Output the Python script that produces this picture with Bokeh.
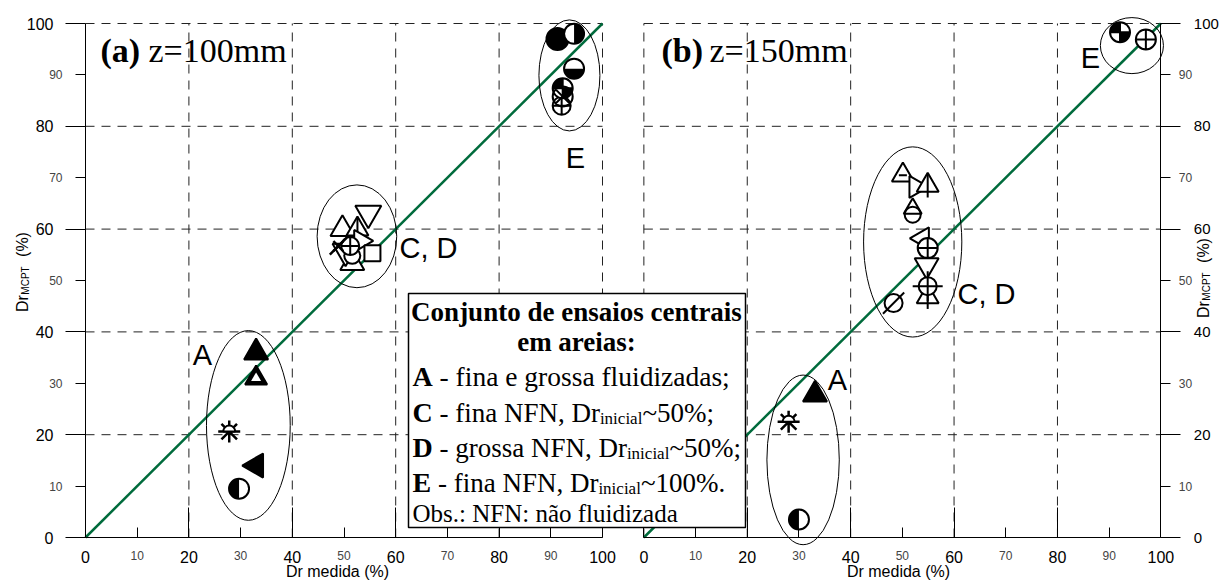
import math
from bokeh.plotting import figure
from bokeh.models import (Range1d, LinearAxis, FixedTicker, ColumnDataSource,
                          LabelSet, Label, BoxAnnotation)
from bokeh.core.properties import value
from bokeh.embed import file_html
from bokeh.resources import INLINE

# ---------------- data ----------------
diag_x = [0, 100]
diag_y = [0, 100]
major_ticks = [0, 20, 40, 60, 80, 100]
minor_ticks = [10, 30, 50, 70, 90]
minor_labels = ["10", "30", "50", "70", "90"]
grid_a = [20, 40, 60, 80, 100]     # vertical dashed grid values, panel (a)
grid_b = [0, 20, 40, 60, 80]       # vertical dashed grid values, panel (b)
grid_h = [20, 40, 60, 80, 100]     # horizontal dashed grid values

# panel (a) z=100mm  -- Dr medida vs Dr MCPT
a_tri_fill_x, a_tri_fill_y = [33.0], [36.0]
a_tri_half_x, a_tri_half_y = [33.0], [31.0]
a_sun_x, a_sun_y = [27.8], [20.6]
a_tri_left_fill_x, a_tri_left_fill_y = [33.0], [14.0]
a_half_left_x, a_half_left_y = [29.7], [9.5]
a_tri_open_x, a_tri_open_y = [49.7, 51.6], [60.0, 53.4]
a_tri_vline_x, a_tri_vline_y = [52.6], [60.0]
a_tri_right_x, a_tri_right_y = [53.2], [57.7]
a_inv_tri_x, a_inv_tri_y = [54.7, 50.3], [63.1, 55.7]
a_circle_x, a_circle_y = [51.6], [54.8]
a_circ_cross_x, a_circ_cross_y = [51.2, 92.1], [56.7, 84.0]
a_square_x, a_square_y = [55.5], [55.3]
a_xmark_x, a_xmark_y = [48.9], [56.7]
a_circ_fill_x, a_circ_fill_y = [91.3], [97.0]
a_half_right_x, a_half_right_y = [94.5], [98.0]
a_half_bottom_x, a_half_bottom_y = [94.5], [91.2]
a_quarter_x, a_quarter_y = [92.3], [87.4]
a_circ_x_x, a_circ_x_y = [92.3], [85.8]

# panel (b) z=150mm
b_tri_fill_x, b_tri_fill_y = [33.1], [27.8]
b_sun_x, b_sun_y = [28.0], [22.5]
b_half_left_x, b_half_left_y = [30.0], [3.5]
b_tri_dash_x, b_tri_dash_y = [50.1], [70.5]
b_tri_right_x, b_tri_right_y = [52.6], [68.2]
b_tri_vline_x, b_tri_vline_y = [54.9, 54.9], [68.5, 46.8]
b_tri_open_x, b_tri_open_y = [52.0], [64.0]
b_circle_x, b_circle_y = [52.0], [62.8]
b_tri_left_x, b_tri_left_y = [53.9], [58.2]
b_circ_cross_x, b_circ_cross_y = [54.9, 97.1], [56.3, 96.9]
b_inv_tri_x, b_inv_tri_y = [54.7], [53.0]
b_crosshair_x, b_crosshair_y = [54.9], [48.9]
b_slash_x, b_slash_y = [48.3], [45.6]
b_quarter_x, b_quarter_y = [92.1], [98.3]

# group ellipses: x, y, width, height
ell_a_x, ell_a_y = [31.5, 52.5, 93.6], [21.8, 58.6, 89.9]
ell_a_w, ell_a_h = [16.2, 15.4, 11.8], [36.9, 20.0, 21.6]
ell_b_x, ell_b_y = [30.8, 52.0, 94.4], [15.1, 57.5, 95.7]
ell_b_w, ell_b_h = [14.0, 19.0, 12.2], [33.0, 37.0, 10.9]

# ---------------- layout ----------------
W, H = 1219, 580
SX, SY = 5.17, 5.14          # px per data unit
FX0, FY0 = 85, 537           # page px of panel (a) origin
OFFSET = 108                 # panel (b) origin, in panel (a) units

x0 = -FX0 / SX
x1 = (W - FX0) / SX
y0 = -(H - FY0) / SY
y1 = FY0 / SY

p = figure(width=W, height=H, x_range=Range1d(x0, x1), y_range=Range1d(y0, y1),
           output_backend="svg", toolbar_location=None,
           x_axis_location=None, y_axis_location=None, min_border=0,
           min_border_left=0, min_border_right=0, min_border_top=0,
           min_border_bottom=0)
p.extra_x_ranges = {"right": Range1d(x0 - OFFSET, x1 - OFFSET)}
p.grid.visible = False
p.outline_line_color = None
p.background_fill_color = "white"
p.border_fill_color = "white"

SANS = "Liberation Sans"
SERIF = "Liberation Serif"


def style_axis(ax, tin, tout, mtin, mtout, standoff, fsize="16px"):
    ax.ticker = FixedTicker(ticks=major_ticks, minor_ticks=minor_ticks)
    ax.bounds = (0, 100)
    ax.major_tick_in = tin
    ax.major_tick_out = tout
    ax.minor_tick_in = mtin
    ax.minor_tick_out = mtout
    ax.major_label_standoff = standoff
    ax.major_label_text_font = SANS
    ax.major_label_text_font_size = fsize
    ax.major_label_text_color = "black"
    ax.axis_line_color = "black"
    ax.major_tick_line_color = "black"
    ax.minor_tick_line_color = "black"


for rn in ("default", "right"):
    bx = LinearAxis(x_range_name=rn, fixed_location=0)
    style_axis(bx, 30, 0, 10, 0, 13)
    p.add_layout(bx, "below")

ly = LinearAxis(fixed_location=0)
style_axis(ly, 0, 20, 0, 10, 12)
p.add_layout(ly, "left")
ry = LinearAxis(x_range_name="right", fixed_location=100)
style_axis(ry, 0, 20, 0, 10, 13, "15px")
p.add_layout(ry, "right")

# minor tick labels (smaller font)
for rn in ("default", "right"):
    p.add_layout(LabelSet(
        source=ColumnDataSource(dict(x=minor_ticks, y=[0] * 5, t=minor_labels)),
        x="x", y="y", text="t", y_offset=-18, text_align="center",
        x_range_name=rn, text_baseline="middle", text_font=value(SANS),
        text_font_size=value("12px")))
p.add_layout(LabelSet(
    source=ColumnDataSource(dict(x=[0] * 5, y=minor_ticks, t=minor_labels)),
    x="x", y="y", text="t", x_offset=-23, text_align="right",
    text_baseline="middle", text_font=value(SANS), text_font_size=value("12px")))
p.add_layout(LabelSet(
    source=ColumnDataSource(dict(x=[100] * 5, y=minor_ticks, t=minor_labels)),
    x="x", y="y", text="t", x_offset=18, text_align="left", x_range_name="right",
    text_baseline="middle", text_font=value(SANS), text_font_size=value("12px")))

DASH = "9 7"
for rn, gv in (("default", grid_a), ("right", grid_b)):
    p.segment(x0=gv, y0=[0] * len(gv), x1=gv, y1=[100] * len(gv),
              line_color="#222222", line_width=1, line_dash=DASH, x_range_name=rn)
    p.segment(x0=[0] * len(grid_h), y0=grid_h, x1=[100] * len(grid_h), y1=grid_h,
              line_color="#222222", line_width=1, line_dash=DASH, x_range_name=rn)

GREEN = "#006B3C"
for rn in ("default", "right"):
    p.line(diag_x, diag_y, line_color=GREEN, line_width=2.5, x_range_name=rn)

p.ellipse(ell_a_x, ell_a_y, width=ell_a_w, height=ell_a_h, fill_color=None,
          line_color="black", line_width=1)
p.ellipse(ell_b_x, ell_b_y, width=ell_b_w, height=ell_b_h, fill_color=None,
          line_color="black", line_width=1, x_range_name="right")

LW = 2
PI = math.pi


def sc(xs, ys, rn, marker, size, fill="white", line="black", lw=LW, angle=0.0):
    p.scatter(xs, ys, marker=marker, size=size, fill_color=fill, line_color=line,
              line_width=lw, angle=angle, x_range_name=rn)


def circ_parts(xs, ys, rn, wedges, size=20, cross=False):
    p.scatter(xs, ys, marker="circle", size=size, fill_color="white",
              line_color=None, x_range_name=rn)
    for a0, a1 in wedges:
        p.wedge(xs, ys, radius=size / 2, radius_units="screen", start_angle=a0,
                end_angle=a1, fill_color="black", line_color=None, x_range_name=rn)
    p.scatter(xs, ys, marker="circle_cross" if cross else "circle", size=size,
              fill_color=None, line_color="black", line_width=LW, x_range_name=rn)


def sun(xs, ys, rn):
    p.scatter(xs, ys, marker="asterisk", size=22, line_color="black",
              line_width=2.5, x_range_name=rn)
    p.wedge(xs, ys, radius=6, radius_units="screen", start_angle=0,
            end_angle=PI, fill_color="white", line_color="black",
            line_width=2, x_range_name=rn)


# ---- panel (a)
rn = "default"
sc(a_tri_fill_x, a_tri_fill_y, rn, "triangle", 24, fill="black")
sc(a_tri_half_x, a_tri_half_y, rn, "triangle", 22, fill="black")
sc(a_tri_half_x, a_tri_half_y, rn, "triangle", 10, fill="white", line=None)
sun(a_sun_x, a_sun_y, rn)
sc(a_tri_left_fill_x, a_tri_left_fill_y, rn, "triangle", 24, fill="black", angle=PI / 2)
circ_parts(a_half_left_x, a_half_left_y, rn, [(PI / 2, 3 * PI / 2)])
sc(a_tri_open_x, a_tri_open_y, rn, "triangle", 24)
sc(a_tri_vline_x, a_tri_vline_y, rn, "triangle", 22)
sc(a_tri_vline_x, a_tri_vline_y, rn, "dash", 22, angle=PI / 2)
sc(a_tri_right_x, a_tri_right_y, rn, "triangle", 22, angle=-PI / 2)
sc(a_inv_tri_x, a_inv_tri_y, rn, "inverted_triangle", 26)
sc(a_square_x, a_square_y, rn, "square", 16)
sc(a_circle_x, a_circle_y, rn, "circle", 16)
sc(a_circ_cross_x, a_circ_cross_y, rn, "circle_cross", 18)
sc(a_xmark_x, a_xmark_y, rn, "x", 14, lw=2.5)
sc(a_xmark_x, a_xmark_y, rn, "dash", 24, angle=PI / 4, lw=2.5)
sc(a_circ_fill_x, a_circ_fill_y, rn, "circle", 22, fill="black")
circ_parts(a_half_right_x, a_half_right_y, rn, [(-PI / 2, PI / 2)])
circ_parts(a_half_bottom_x, a_half_bottom_y, rn, [(PI, 2 * PI)])
circ_parts(a_quarter_x, a_quarter_y, rn, [(PI / 2, PI), (3 * PI / 2, 2 * PI)], cross=True)
sc(a_circ_x_x, a_circ_x_y, rn, "circle_x", 20, fill=None)

# ---- panel (b)
rn = "right"
sc(b_tri_fill_x, b_tri_fill_y, rn, "triangle", 24, fill="black")
sun(b_sun_x, b_sun_y, rn)
circ_parts(b_half_left_x, b_half_left_y, rn, [(PI / 2, 3 * PI / 2)])
sc(b_tri_dash_x, b_tri_dash_y, rn, "triangle", 22)
sc(b_tri_dash_x, b_tri_dash_y, rn, "dash", 8)
sc(b_tri_right_x, b_tri_right_y, rn, "triangle", 22, angle=-PI / 2)
sc(b_tri_vline_x, b_tri_vline_y, rn, "triangle", 22)
sc(b_tri_vline_x, b_tri_vline_y, rn, "dash", 24, angle=PI / 2)
sc(b_tri_open_x, b_tri_open_y, rn, "triangle", 18)
sc(b_circle_x, b_circle_y, rn, "circle", 16, fill=None)
sc(b_tri_left_x, b_tri_left_y, rn, "triangle", 22, angle=PI / 2)
sc(b_circ_cross_x, b_circ_cross_y, rn, "circle_cross", 20)
sc(b_inv_tri_x, b_inv_tri_y, rn, "inverted_triangle", 24)
sc(b_crosshair_x, b_crosshair_y, rn, "circle", 18)
sc(b_crosshair_x, b_crosshair_y, rn, "cross", 30, fill=None)
sc(b_slash_x, b_slash_y, rn, "circle", 18)
sc(b_slash_x, b_slash_y, rn, "dash", 30, angle=PI / 4)
circ_parts(b_quarter_x, b_quarter_y, rn, [(PI / 2, PI), (3 * PI / 2, 2 * PI)], cross=True)


# ---------------- texts ----------------
def px_x(px):
    return (px - FX0) / SX


def px_y(py):
    return (FY0 - py) / SY


def lab(text, px, py, size, font=SERIF, style="normal", align="left",
        baseline="middle", angle=0.0):
    p.add_layout(Label(x=px_x(px), y=px_y(py), text=text, text_font=font,
                       text_font_size="%.1fpx" % size, text_font_style=style,
                       text_align=align, text_baseline=baseline, angle=angle,
                       text_color="black"))


NB = "\u00a0"

# group letters
lab("A", 202, 354, 29, font=SANS, align="center")
lab("C, D", 428, 247, 29, font=SANS, align="center")
lab("E", 575, 157, 29, font=SANS, align="center")
lab("A", 837, 379, 29, font=SANS, align="center")
lab("C, D", 986, 293, 29, font=SANS, align="center")
lab("E", 1090, 57, 29, font=SANS, align="center")

# panel titles
lab("(a)", 100, 50, 34, style="bold")
lab("z=100mm", 148, 50, 34)
lab("(b)", 661, 50, 34, style="bold")
lab("z=150mm", 709, 50, 34)

# axis titles
for cx in (337, 898):
    lab("Dr medida (%)", cx, 571, 16, font=SANS, align="center")
for cx, dy in ((22, 0), (1203, 6)):
    lab("Dr", cx, 303 + dy, 16, font=SANS, align="center", angle=PI / 2)
    lab("MCPT", cx + 3, 280 + dy, 10, font=SANS, align="center", angle=PI / 2)
    lab("(%)", cx, 244 + dy, 16, font=SANS, align="center", angle=PI / 2)

# legend box
p.add_layout(BoxAnnotation(left=px_x(408), right=px_x(745), top=px_y(293),
                           bottom=px_y(527), fill_color="white", fill_alpha=1.0,
                           line_color="black", line_width=1.5, line_alpha=1.0))
lab("Conjunto de ensaios centrais", 576, 311, 27, style="bold", align="center")
lab("em areias:", 576, 341, 27, style="bold", align="center")

lab("A", 412, 376, 28, style="bold")
lab(NB + "- fina e grossa fluidizadas;", 432.2, 376, 27.5)
lab("C", 412, 412, 28, style="bold")
lab(NB + "- fina NFN, Dr", 432.2, 412, 27)
lab("inicial", 599.4, 418, 17)
lab("~50%;", 641.9, 412, 27)
lab("D", 412, 447, 28, style="bold")
lab(NB + "- grossa NFN, Dr", 432.2, 447, 27)
lab("inicial", 626.4, 453, 17)
lab("~50%;", 668.9, 447, 27)
lab("E", 412, 482, 28, style="bold")
lab(NB + "- fina NFN, Dr", 430.7, 482, 27)
lab("inicial", 597.9, 488, 17)
lab("~100%.", 640.4, 482, 27)
lab("Obs.: NFN: não fluidizada", 412, 513, 25)

open("out.html", "w", encoding="utf-8").write(file_html(p, INLINE))
